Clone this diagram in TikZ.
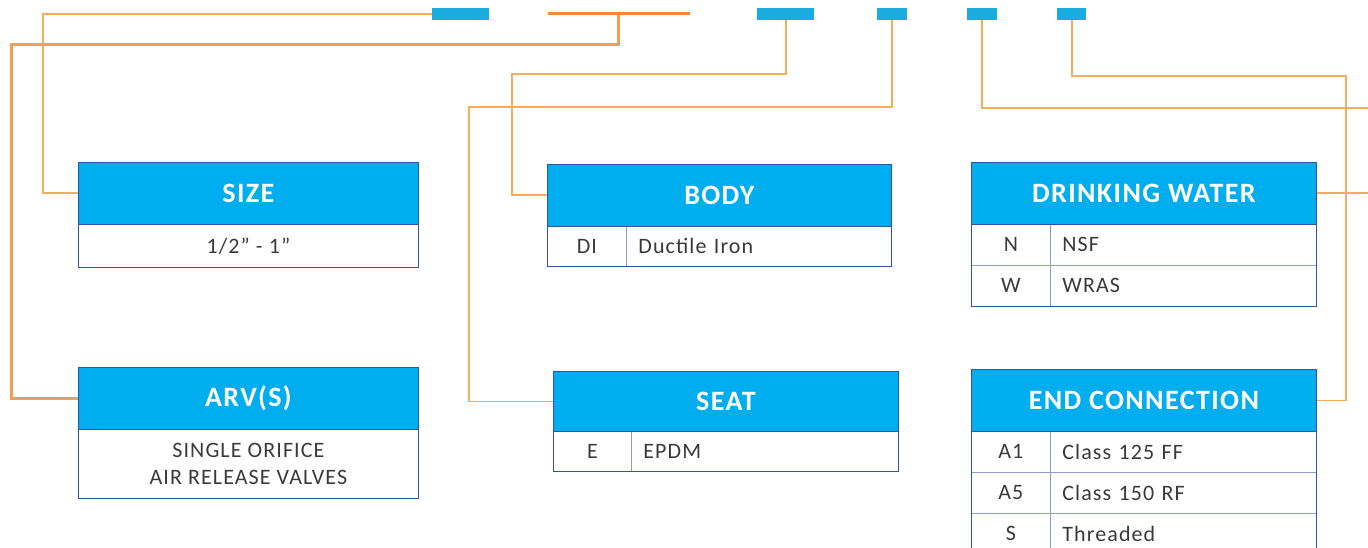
\documentclass[tikz,border=0pt]{standalone}
\usepackage{fontspec}
\setmainfont{Carlito}[LetterSpace=5]
\definecolor{barblue}{HTML}{1AACDF}
\definecolor{hdrblue}{HTML}{00AEEF}
\definecolor{bdark}{HTML}{3352A3}
\definecolor{blight}{HTML}{8E9CC9}
\definecolor{olight}{HTML}{F6AC5A}
\definecolor{othick}{HTML}{F29D58}
\definecolor{otop}{HTML}{F08B3D}
\definecolor{txt}{HTML}{3A3A3A}
\tikzset{
  bar/.style={fill=barblue, draw=none, inner sep=0pt, minimum height=12pt, anchor=north west},
  hdr/.style={fill=hdrblue, draw=bdark, line width=0.8pt, text=white, font=\fontsize{28}{30}\selectfont\bfseries, inner sep=0pt, anchor=north west},
  cell/.style={draw=blight, line width=0.8pt, text=txt, font=\fontsize{22}{27}\selectfont, inner sep=0pt, anchor=north west},
  frame/.style={draw=bdark, line width=0.8pt},
  conn/.style={draw=olight, line width=1.8pt},
  connthick/.style={draw=othick, line width=3pt},
}
\begin{document}
\begin{tikzpicture}[x=1pt,y=-1pt]
\useasboundingbox (0,0) rectangle (1368,548);
\clip (0,0) rectangle (1368,548);
% top code bars
\node[bar, minimum width=57pt] (bar1) at (432,8) {};
\node[fill=otop, inner sep=0pt, minimum width=142pt, minimum height=3.6pt, anchor=west] (otopline) at (548,13.5) {};
\node[bar, minimum width=57pt] (bar2) at (757,8) {};
\node[bar, minimum width=30pt] (bar3) at (877,8) {};
\node[bar, minimum width=30pt] (bar4) at (967,8) {};
\node[bar, minimum width=29pt] (bar5) at (1057,8) {};

% SIZE
\node[cell, minimum width=340pt, minimum height=43pt] (sizeb) at (78,224) {1/2” - 1”};
\node[hdr, minimum width=340pt, minimum height=62pt] (size) at (78,162) {SIZE};
\draw[frame] (size.north west) rectangle (sizeb.south east);

% ARV(S)
\node[cell, minimum width=340pt, minimum height=69pt, align=center] (arvb) at (78,429) {SINGLE ORIFICE\\AIR RELEASE VALVES};
\node[hdr, minimum width=340pt, minimum height=62pt] (arv) at (78,367) {ARV(S)};
\draw[frame] (arv.north west) rectangle (arvb.south east);

% BODY
\node[cell, minimum width=79pt, minimum height=40pt] (bodyc1) at (547,226) {DI};
\node[cell, minimum width=265pt, minimum height=40pt, text width=241pt, align=left, inner xsep=12pt] (bodyd1) at (626,226) {Ductile Iron};
\node[hdr, minimum width=344pt, minimum height=62pt] (body) at (547,164) {BODY};
\draw[frame] (body.north west) rectangle (bodyd1.south east);

% SEAT
\node[cell, minimum width=78pt, minimum height=40pt] (seatc1) at (553,431) {E};
\node[cell, minimum width=267pt, minimum height=40pt, text width=243pt, align=left, inner xsep=12pt] (seatd1) at (631,431) {EPDM};
\node[hdr, minimum width=345pt, minimum height=60pt] (seat) at (553,371) {SEAT};
\draw[frame] (seat.north west) rectangle (seatd1.south east);

% DRINKING WATER
\node[cell, minimum width=79pt, minimum height=41pt] (dwc1) at (971,224) {N};
\node[cell, minimum width=266pt, minimum height=41pt, text width=242pt, align=left, inner xsep=12pt] (dwd1) at (1050,224) {NSF};
\node[cell, minimum width=79pt, minimum height=41pt] (dwc2) at (971,265) {W};
\node[cell, minimum width=266pt, minimum height=41pt, text width=242pt, align=left, inner xsep=12pt] (dwd2) at (1050,265) {WRAS};
\node[hdr, minimum width=345pt, minimum height=62pt] (dw) at (971,162) {DRINKING WATER};
\draw[frame] (dw.north west) rectangle (dwd2.south east);

% END CONNECTION
\node[cell, minimum width=79pt, minimum height=41pt] (ecc1) at (971,431) {A1};
\node[cell, minimum width=266pt, minimum height=41pt, text width=242pt, align=left, inner xsep=12pt] (ecd1) at (1050,431) {Class 125 FF};
\node[cell, minimum width=79pt, minimum height=41pt] (ecc2) at (971,472) {A5};
\node[cell, minimum width=266pt, minimum height=41pt, text width=242pt, align=left, inner xsep=12pt] (ecd2) at (1050,472) {Class 150 RF};
\node[cell, minimum width=79pt, minimum height=41pt] (ecc3) at (971,513) {S};
\node[cell, minimum width=266pt, minimum height=41pt, text width=242pt, align=left, inner xsep=12pt] (ecd3) at (1050,513) {Threaded};
\node[hdr, minimum width=345pt, minimum height=62pt] (ec) at (971,369) {END CONNECTION};
\draw[frame] (ec.north west) rectangle (ecd3.south east);

% connectors
\coordinate (sz) at (43,100);
\draw[conn] (bar1.west) -| (sz) |- (size.west);

\coordinate (ar1) at (618,44.5);
\coordinate (ar2) at (11,44.5);
\draw[connthick] (otopline.south -| ar1) -- (ar1) -- (ar2) |- (arv.west);

\coordinate (bd) at (512,74);
\draw[conn] (bar2.south) |- (bd) |- (body.west);

\coordinate (st) at (469,107);
\draw[conn] (bar3.south) |- (st) |- (seat.west);

\coordinate (dwturn) at (1385,108);
\draw[conn] (bar4.south) |- (dwturn) |- (dw.east);

\coordinate (ecturn) at (1346,76);
\draw[conn] (bar5.south) |- (ecturn) |- (ec.east);
\end{tikzpicture}
\end{document}
